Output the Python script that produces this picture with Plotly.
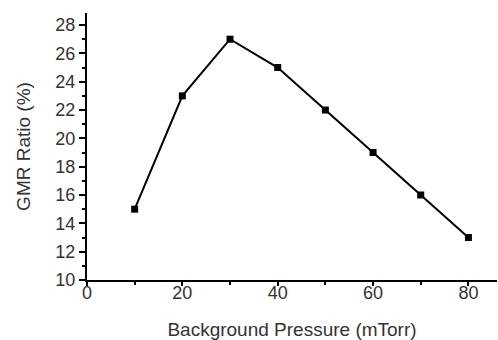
import plotly.graph_objects as go

pressure = [10, 20, 30, 40, 50, 60, 70, 80]
gmr_ratio = [15, 23, 27, 25, 22, 19, 16, 13]

x_ticks = [0, 20, 40, 60, 80]
y_ticks = [10, 12, 14, 16, 18, 20, 22, 24, 26, 28]

font_family = "Liberation Sans, Arial, sans-serif"
text_color = "#333333"

fig = go.Figure()
fig.add_trace(go.Scatter(
    x=pressure, y=gmr_ratio, mode="lines+markers",
    line=dict(color="black", width=2),
    marker=dict(symbol="square", size=7, color="black"),
    showlegend=False,
))

fig.update_layout(
    width=498, height=340,
    margin=dict(l=87, r=1, t=13, b=60, autoexpand=False),
    paper_bgcolor="white", plot_bgcolor="white",
    font=dict(family=font_family, color=text_color, size=16),
)
fig.update_xaxes(
    automargin=False,
    range=[0, 86], tickvals=x_ticks, ticktext=[str(v) for v in x_ticks],
    showgrid=False, zeroline=False,
    showline=True, linecolor="black", linewidth=2,
    ticks="outside", ticklen=4, tickwidth=2, tickcolor="black",
    ticklabelstandoff=-9,
    minor=dict(ticks="outside", dtick=10, tick0=0, ticklen=3, tickwidth=2, tickcolor="black"),
    tickfont=dict(size=18, color=text_color),
    title=dict(text="Background Pressure (mTorr)", font=dict(size=19, color=text_color), standoff=25),
)
fig.update_yaxes(
    automargin=False,
    range=[10, 28.85], tickvals=y_ticks, ticktext=[str(v) for v in y_ticks],
    showgrid=False, zeroline=False,
    showline=True, linecolor="black", linewidth=2,
    ticks="outside", ticklen=6, tickwidth=2, tickcolor="black",
    minor=dict(ticks="outside", dtick=1, tick0=10, ticklen=3, tickwidth=2, tickcolor="black"),
    tickfont=dict(size=18, color=text_color),
    title=dict(text="GMR Ratio (%)", font=dict(size=19, color=text_color), standoff=20),
)

fig.write_html("out.html", config={"displayModeBar": False},
               post_script="document.body.style.margin='0';document.body.style.overflow='hidden';")
